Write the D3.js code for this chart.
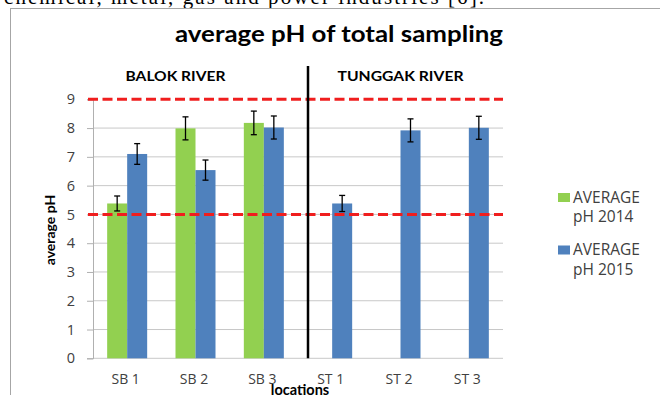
<!DOCTYPE html>
<meta charset="utf-8">
<style>
body { margin: 0; background: #fff; }
svg { display: block; }
.tick text { font: 14.5px "Open Sans", sans-serif; fill: #404040; }
.xlab { font: 14px "Open Sans", sans-serif; fill: #404040; text-anchor: middle; }
.bold { font-family: Lato, sans-serif; font-weight: bold; fill: #000; }
.legend text { font: 15.5px "Open Sans", sans-serif; fill: #404040; }
</style>
<svg width="660" height="395"></svg>
<script src="https://d3js.org/d3.v7.min.js"></script>
<script>

var categories = ["SB 1", "SB 2", "SB 3", "ST 1", "ST 2", "ST 3"],
    ph2014 = [5.38, 7.99, 8.18, null, null, null],
    err2014 = [0.26, 0.40, 0.41, null, null, null],
    ph2015 = [7.10, 6.54, 8.02, 5.38, 7.92, 8.01],
    err2015 = [0.36, 0.35, 0.40, 0.28, 0.40, 0.40],
    limits = [5, 9],
    yTicks = [0, 1, 2, 3, 4, 5, 6, 7, 8, 9],
    sections = ["BALOK RIVER", "TUNGGAK RIVER"],
    seriesNames = [["AVERAGE", "pH 2014"], ["AVERAGE", "pH 2015"]],
    colors = ["#92d050", "#4f81bd"];

var svg = d3.select("svg"),
    plotLeft = 93, plotRight = 503, plotTop = 99.3, plotBottom = 358.3;

// page text above the chart (cut off)
svg.append("text")
    .attr("x", 4).attr("y", 3.5)
    .attr("textLength", 480)
    .style("font", "21px 'Liberation Serif', serif")
    .text("chemical, metal, gas and power industries [6].");

// chart frame
svg.append("rect")
    .attr("x", 10.5).attr("y", 8.5)
    .attr("width", 700).attr("height", 500)
    .attr("fill", "none").attr("stroke", "#a6a6a6");

var x0 = d3.scaleBand().domain(categories).range([plotLeft, plotRight])
    .paddingInner(0.4146).paddingOuter(0.2073);
var x1 = d3.scaleBand().domain([0, 1]).range([0, x0.bandwidth()]);
var y = d3.scaleLinear().domain([0, 9]).range([plotBottom, plotTop]);

// gridlines
svg.append("g").selectAll("line")
    .data(yTicks.slice(0, -1))
  .enter().append("line")
    .attr("x1", plotLeft).attr("x2", plotRight)
    .attr("y1", function(d) { return y(d); })
    .attr("y2", function(d) { return y(d); })
    .attr("stroke", "#c8c8c8");

var yAxis = svg.append("g")
    .attr("transform", "translate(" + plotLeft + ",0)")
    .call(d3.axisLeft(y).tickValues(yTicks).tickSize(6).tickPadding(12));
yAxis.select(".domain").attr("stroke", "#b0b0b0");
yAxis.selectAll(".tick line").attr("stroke", "#b0b0b0");

// bars
var series = [ph2014, ph2015], errs = [err2014, err2015];
series.forEach(function(vals, s) {
  var g = svg.append("g");
  var data = categories.map(function(c, i) { return { c: c, v: vals[i], e: errs[s][i] }; })
      .filter(function(d) { return d.v != null; });
  g.selectAll("rect")
      .data(data)
    .enter().append("rect")
      .attr("x", function(d) { return x0(d.c) + x1(s); })
      .attr("width", x1.bandwidth())
      .attr("y", function(d) { return y(d.v); })
      .attr("height", function(d) { return y(0) - y(d.v); })
      .attr("fill", colors[s]);
  var eb = g.selectAll(".err")
      .data(data)
    .enter().append("g")
      .attr("transform", function(d) { return "translate(" + (x0(d.c) + x1(s) + x1.bandwidth() / 2) + ",0)"; })
      .attr("stroke", "#000").attr("stroke-width", 1.3);
  eb.append("line").attr("y1", function(d) { return y(d.v + d.e); }).attr("y2", function(d) { return y(d.v - d.e); });
  eb.append("line").attr("x1", -3).attr("x2", 3).attr("y1", function(d) { return y(d.v + d.e); }).attr("y2", function(d) { return y(d.v + d.e); });
  eb.append("line").attr("x1", -3).attr("x2", 3).attr("y1", function(d) { return y(d.v - d.e); }).attr("y2", function(d) { return y(d.v - d.e); });
});

// red limit lines
svg.append("g").selectAll("line")
    .data(limits)
  .enter().append("line")
    .attr("x1", plotLeft - 5).attr("x2", plotRight)
    .attr("y1", function(d) { return y(d); })
    .attr("y2", function(d) { return y(d); })
    .attr("stroke", "#f01e1e").attr("stroke-width", 3)
    .attr("stroke-dasharray", "10,4.5");

// divider between the two rivers
var divX = ((x0("SB 3") + x0.bandwidth()) + (x0("ST 1") + x1(1))) / 2;
svg.append("line")
    .attr("x1", divX).attr("x2", divX)
    .attr("y1", 66).attr("y2", y(0))
    .attr("stroke", "#000").attr("stroke-width", 2.5);

// section labels
var secX = [x0("SB 2") + x0.bandwidth() / 2 - 20, x0("ST 2") + x0.bandwidth() / 2],
    secW = [100, 126];
svg.selectAll(".sec")
    .data(sections)
  .enter().append("text")
    .attr("class", "bold")
    .attr("x", function(d, i) { return secX[i] - secW[i] / 2; })
    .attr("y", 80.5)
    .attr("textLength", function(d, i) { return secW[i]; })
    .attr("lengthAdjust", "spacingAndGlyphs")
    .style("font-size", "13px")
    .text(function(d) { return d; });

// x labels
svg.selectAll(".xlab")
    .data(categories)
  .enter().append("text")
    .attr("class", "xlab")
    .attr("x", function(d) { return x0(d) + x0.bandwidth() / 2 - 1.5; })
    .attr("y", 383.5)
    .text(function(d) { return d; });

// titles
svg.append("text").attr("class", "bold")
    .attr("x", 175).attr("y", 41.7)
    .attr("textLength", 328)
    .attr("lengthAdjust", "spacingAndGlyphs")
    .style("font-size", "23px")
    .text("average pH of total sampling");

svg.append("text").attr("class", "bold")
    .attr("x", 300).attr("y", 395)
    .attr("text-anchor", "middle")
    .style("font-size", "14.5px")
    .text("locations");

svg.append("text").attr("class", "bold")
    .attr("transform", "translate(55,230) rotate(-90)")
    .attr("text-anchor", "middle")
    .style("font-size", "14px")
    .text("average pH");

// legend
var lg = svg.append("g").attr("class", "legend")
    .selectAll("g")
    .data(seriesNames)
  .enter().append("g")
    .attr("transform", function(d, i) { return "translate(558," + (193 + i * 52.5) + ")"; });
lg.append("rect").attr("width", 12).attr("height", 9)
    .attr("fill", function(d, i) { return colors[i]; });
lg.append("text").attr("x", 15).attr("y", 9.5).text(function(d) { return d[0]; });
lg.append("text").attr("x", 15).attr("y", 29).text(function(d) { return d[1]; });

</script>
